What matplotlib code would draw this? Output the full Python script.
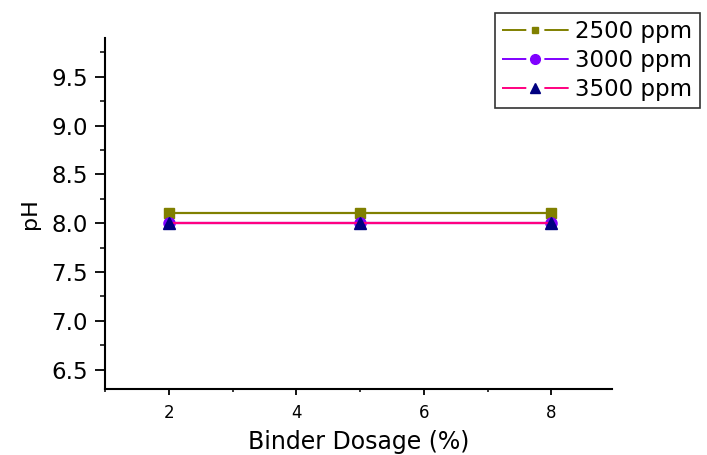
import matplotlib
matplotlib.use("Agg")
import matplotlib.pyplot as plt
from matplotlib.lines import Line2D
from matplotlib.ticker import MultipleLocator

plt.rcParams['font.family'] = ['DejaVu Sans']
plt.rcParams['lines.scale_dashes'] = False

dosage = [2, 5, 8]
ph_2500 = [8.1, 8.1, 8.1]
ph_3000 = [8.0, 8.0, 8.0]
ph_3500 = [8.0, 8.0, 8.0]
series_labels = ['2500 ppm', '3000 ppm', '3500 ppm']
y_ticks = [6.5, 7.0, 7.5, 8.0, 8.5, 9.0, 9.5]

olive, violet, pink, navy = '#808000', '#8000FF', '#FF0080', '#000080'

fig = plt.figure(figsize=(7.07, 4.55), dpi=100)
ax = fig.add_axes([0.1485, 0.145, 0.717, 0.772])

ax.plot(dosage, ph_2500, color=olive, lw=1.6, marker='s', ms=7,
        mfc=olive, mec=olive)
ax.plot(dosage, ph_3000, color=violet, lw=1.6, marker='o', ms=8,
        mfc=violet, mec=violet)
ax.plot(dosage, ph_3500, color=pink, lw=1.6, marker='^', ms=9,
        mfc=navy, mec=navy)

ax.set_xlim(1, 8.95)
ax.set_ylim(6.3, 9.9)
ax.xaxis.set_major_locator(MultipleLocator(2))
ax.xaxis.set_minor_locator(MultipleLocator(1))
ax.yaxis.set_minor_locator(MultipleLocator(0.25))
ax.set_yticks(y_ticks)
ax.set_yticklabels([f'{v:.1f}' for v in y_ticks])

for side in ('top', 'right'):
    ax.spines[side].set_visible(False)
for side in ('left', 'bottom'):
    ax.spines[side].set_linewidth(1.5)

ax.tick_params(axis='y', which='major', direction='out', length=7.2, width=1.3,
               labelsize=16.5, pad=5)
ax.tick_params(axis='y', which='minor', direction='out', length=3.6, width=1.1)
ax.tick_params(axis='x', which='major', direction='out', length=4.5, width=1.3,
               labelsize=12, pad=6)
ax.tick_params(axis='x', which='minor', direction='out', length=2.5, width=1.1)

ax.set_xlabel('Binder Dosage (%)', fontsize=17)
ax.set_ylabel('pH', fontsize=16)
ax.xaxis.set_label_coords(0.5, -0.117)
ax.yaxis.set_label_coords(-0.128, 0.5)

# legend handles: line broken on both sides of the marker
gap_style = (0, (17.5, 13))
handles = [
    Line2D([], [], color=olive, lw=1.4, ls=gap_style, marker='s', ms=5,
           mfc=olive, mec=olive),
    Line2D([], [], color=violet, lw=1.4, ls=gap_style, marker='o', ms=7,
           mfc=violet, mec=violet),
    Line2D([], [], color=pink, lw=1.4, ls=gap_style, marker='^', ms=7,
           mfc=navy, mec=navy),
]
leg = fig.legend(handles=handles, labels=series_labels, loc='upper right',
                 bbox_to_anchor=(0.99, 0.972), fontsize=16.5,
                 frameon=True, fancybox=False, edgecolor='black',
                 handlelength=2.9, handletextpad=0.3, borderpad=0.32,
                 labelspacing=0.25, borderaxespad=0)
leg.get_frame().set_linewidth(1.2)

fig.savefig('out.png', dpi=100)
